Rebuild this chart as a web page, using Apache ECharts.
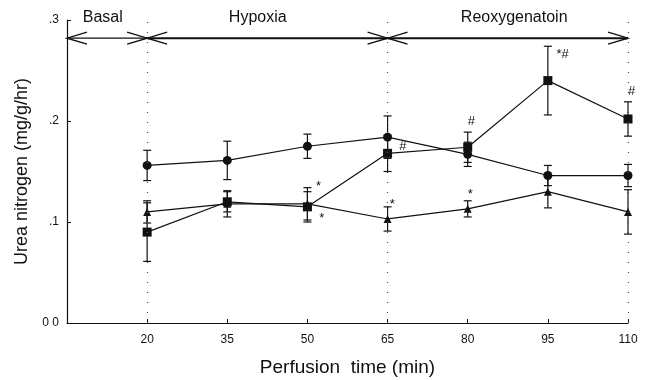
<!DOCTYPE html>
<html>
<head>
<meta charset="utf-8">
<script src="https://cdn.jsdelivr.net/npm/echarts@6/dist/echarts.min.js"></script>
<style>
  html, body { margin: 0; padding: 0; background: #fff; }
  #chart { width: 647px; height: 380px; }
</style>
</head>
<body>
<div id="chart"></div>
<script>
// time points (min)
const times = [20, 35, 50, 65, 80, 95, 110];
const xTicks = [20, 35, 50, 65, 80, 95, 110];
const yTicks = [0, 0.1, 0.2, 0.3];
const yTickLabels = ['0 0', '.1', '.2', '.3'];

// groups: circle, square, triangle
const circleMean = [0.156, 0.161, 0.175, 0.184, 0.167, 0.146, 0.146];
const circleErr  = [0.015, 0.019, 0.012, 0.021, 0.012, 0.010, 0.011];
const squareMean = [0.090, 0.120, 0.115, 0.168, 0.174, 0.240, 0.202];
const squareErr  = [0.029, 0.010, 0.015, 0.018, 0.015, 0.034, 0.017];
const triMean    = [0.110, 0.118, 0.118, 0.103, 0.113, 0.130, 0.110];
const triErr     = [0.011, 0.013, 0.016, 0.012, 0.008, 0.016, 0.022];

// phases along the top
const phaseNames = ['Basal', 'Hypoxia', 'Reoxygenatoin'];
const phaseStart = [5, 20, 65];
const phaseEnd   = [20, 65, 110];
const phaseLabelX = [11.7, 40.7, 88.7];
const phaseArrowY = 0.282;
const phaseDividers = [20, 65, 110];

// significance marks [x, y, text]
const sigMarks = [
  [51.6, 0.135, '*'], [52.2, 0.104, '*'],
  [67.2, 0.175, '#'], [65.4, 0.117, '*'],
  [80, 0.200, '#'], [80, 0.127, '*'],
  [96.6, 0.266, '*#'], [110, 0.229, '#']
];

const FONT = '"Liberation Sans", Arial, sans-serif';

function pairs(means) { return times.map((t, i) => [t, means[i]]); }
function errData(means, errs) { return times.map((t, i) => [t, means[i] - errs[i], means[i] + errs[i]]); }

function renderErr(params, api) {
  const x = api.value(0);
  const lo = api.coord([x, api.value(1)]);
  const hi = api.coord([x, api.value(2)]);
  const w = 4;
  const st = { stroke: '#111', lineWidth: 1.2 };
  return {
    type: 'group',
    children: [
      { type: 'line', shape: { x1: lo[0], y1: lo[1], x2: hi[0], y2: hi[1] }, style: st },
      { type: 'line', shape: { x1: lo[0] - w, y1: lo[1], x2: lo[0] + w, y2: lo[1] }, style: st },
      { type: 'line', shape: { x1: hi[0] - w, y1: hi[1], x2: hi[0] + w, y2: hi[1] }, style: st }
    ]
  };
}

function renderPhase(params, api) {
  const a = api.coord([api.value(0), api.value(2)]);
  const b = api.coord([api.value(1), api.value(2)]);
  const t = api.coord([api.value(3), api.value(2)]);
  const st = { stroke: '#111', lineWidth: 1.4, fill: null };
  const hx = 20, hy = 6;
  return {
    type: 'group',
    children: [
      { type: 'line', shape: { x1: a[0], y1: a[1], x2: b[0], y2: b[1] }, style: { stroke: '#111', lineWidth: params.dataIndex === 0 ? 1.2 : 2 } },
      { type: 'polyline', shape: { points: [[a[0] + hx, a[1] - hy], [a[0], a[1]], [a[0] + hx, a[1] + hy]] }, style: st },
      { type: 'polyline', shape: { points: [[b[0] - hx, b[1] - hy], [b[0], b[1]], [b[0] - hx, b[1] + hy]] }, style: st },
      {
        type: 'text',
        style: {
          text: phaseNames[params.dataIndex],
          x: t[0], y: a[1] - 21,
          align: 'center', verticalAlign: 'middle',
          font: '16px ' + FONT, fill: '#111'
        }
      }
    ]
  };
}

function renderSig(params, api) {
  const p = api.coord([api.value(0), api.value(1)]);
  return {
    type: 'text',
    style: {
      text: sigMarks[params.dataIndex][2],
      x: p[0], y: p[1], align: 'left', verticalAlign: 'middle',
      font: '13px ' + FONT, fill: '#111'
    }
  };
}

const lineStyle = { color: '#111', width: 1.2 };

const option = {
  backgroundColor: '#fff',
  animation: false,
  grid: { left: 67, right: 19, top: 20, bottom: 57, containLabel: false, outerBoundsMode: 'none' },
  xAxis: {
    type: 'value',
    min: 5,
    max: 110,
    name: 'Perfusion  time (min)',
    nameLocation: 'middle',
    nameGap: 35,
    nameTextStyle: { fontFamily: FONT, fontSize: 19, color: '#111' },
    axisLine: { lineStyle: { color: '#111', width: 1.2 } },
    axisTick: { show: true, inside: true, length: 4, customValues: xTicks, lineStyle: { color: '#111' } },
    axisLabel: { customValues: xTicks, fontFamily: FONT, fontSize: 12, color: '#111', margin: 11 },
    splitLine: { show: false }
  },
  yAxis: {
    type: 'value',
    min: 0,
    max: 0.3,
    name: 'Urea nitrogen (mg/g/hr)',
    nameLocation: 'middle',
    nameGap: 36,
    nameTextStyle: { fontFamily: FONT, fontSize: 18, color: '#111' },
    axisLine: { show: true, lineStyle: { color: '#111', width: 1.2 } },
    axisTick: { show: true, inside: true, length: 4, customValues: yTicks, lineStyle: { color: '#111' } },
    axisLabel: {
      customValues: yTicks,
      fontFamily: FONT, fontSize: 12, color: '#111', margin: 8,
      formatter: v => yTickLabels[yTicks.findIndex(t => Math.abs(t - v) < 1e-6)]
    },
    splitLine: { show: false }
  },
  series: [
    {
      type: 'line',
      data: [],
      silent: true,
      markLine: {
        silent: true,
        symbol: 'none',
        label: { show: false },
        lineStyle: { color: '#555', type: [1, 9], width: 1.2 },
        data: phaseDividers.map(x => ({ xAxis: x }))
      }
    },
    { type: 'custom', renderItem: renderErr, data: errData(circleMean, circleErr), z: 3 },
    { type: 'custom', renderItem: renderErr, data: errData(squareMean, squareErr), z: 3 },
    { type: 'custom', renderItem: renderErr, data: errData(triMean, triErr), z: 3 },
    { type: 'line', data: pairs(circleMean), symbol: 'circle', symbolSize: 9, lineStyle, itemStyle: { color: '#111' }, z: 4 },
    { type: 'line', data: pairs(squareMean), symbol: 'rect', symbolSize: 9, lineStyle, itemStyle: { color: '#111' }, z: 4 },
    { type: 'line', data: pairs(triMean), symbol: 'triangle', symbolSize: 8, lineStyle, itemStyle: { color: '#111' }, z: 4 },
    {
      type: 'custom',
      renderItem: renderPhase,
      data: phaseNames.map((n, i) => [phaseStart[i], phaseEnd[i], phaseArrowY, phaseLabelX[i]]),
      clip: false,
      z: 5
    },
    { type: 'custom', renderItem: renderSig, data: sigMarks.map(m => [m[0], m[1]]), z: 5 }
  ]
};

const chart = echarts.init(document.getElementById('chart'));
chart.setOption(option);
</script>
</body>
</html>
